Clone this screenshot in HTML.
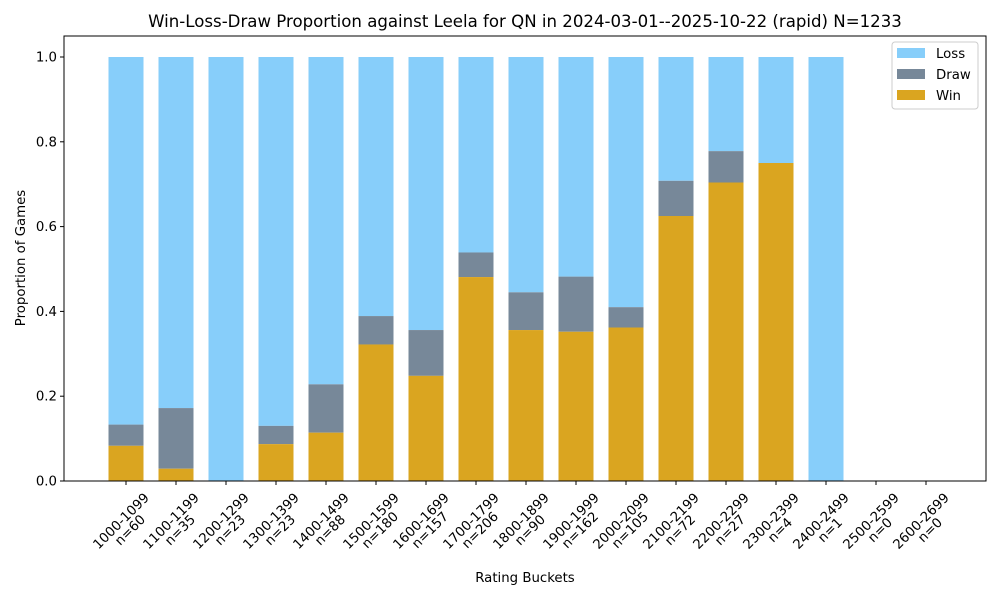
<!DOCTYPE html>
<html><head><meta charset="utf-8"><style>
body{margin:0;background:#fff;font-family:"DejaVu Sans","Liberation Sans",sans-serif;}
</style></head><body>
<svg id="chart" width="1000" height="600" xmlns="http://www.w3.org/2000/svg" font-family="DejaVu Sans, Liberation Sans, sans-serif">
<rect width="1000" height="600" fill="#fff"/>
<text x="525" y="27" text-anchor="middle" font-size="16.6">Win-Loss-Draw Proportion against Leela for QN in 2024-03-01--2025-10-22 (rapid) N=1233</text>
<g id="bars"></g>
<g id="axes"></g>
<text x="525" y="582" text-anchor="middle" font-size="13.3">Rating Buckets</text>
<text transform="translate(25,258) rotate(-90)" text-anchor="middle" font-size="13.3">Proportion of Games</text>
<g>
<rect x="892" y="42" width="86" height="67" fill="#fff" stroke="#ccc" rx="3"/>
<rect x="897" y="48" width="28" height="10" fill="#87CEFA"/>
<text x="936" y="58" font-size="13.3">Loss</text>
<rect x="897" y="69" width="28" height="10" fill="#778899"/>
<text x="936" y="79" font-size="13.3">Draw</text>
<rect x="897" y="90" width="28" height="10" fill="#DAA520"/>
<text x="936" y="100" font-size="13.3">Win</text>
</g>
</svg>
<script>
const categories=["1000-1099","1100-1199","1200-1299","1300-1399","1400-1499","1500-1599","1600-1699","1700-1799","1800-1899","1900-1999","2000-2099","2100-2199","2200-2299","2300-2399","2400-2499","2500-2599","2600-2699"];
const counts=[60,35,23,23,88,180,157,206,90,162,105,72,27,4,1,0,0];
const winValues=[0.083,0.029,0,0.087,0.114,0.322,0.248,0.481,0.356,0.352,0.362,0.625,0.704,0.75,0,0,0];
const drawValues=[0.05,0.143,0,0.043,0.114,0.067,0.108,0.058,0.089,0.13,0.048,0.083,0.074,0,0,0,0];
const yTicks=[0,0.2,0.4,0.6,0.8,1.0];
const NS="http://www.w3.org/2000/svg";
const L=64,R=986,T=36,B=481;
const x=i=>126+50*i;
const y=v=>B-v*424;
const bw=35;
function mk(tag,attrs,parent){const e=document.createElementNS(NS,tag);for(const k in attrs)e.setAttribute(k,attrs[k]);parent.appendChild(e);return e;}
const bars=document.getElementById('bars'),axes=document.getElementById('axes');
categories.forEach((c,i)=>{
  if(counts[i]===0)return;
  const w=winValues[i],d=drawValues[i];
  const rl=mk('rect',{x:x(i)-bw/2,y:y(1),width:bw,height:y(w+d)-y(1),fill:'#87CEFA'},bars);
  
  
  const rd=mk('rect',{x:x(i)-bw/2,y:y(w+d),width:bw,height:y(w)-y(w+d),fill:'#778899'},bars);
  
  
  const rw=mk('rect',{x:x(i)-bw/2,y:y(w),width:bw,height:y(0)-y(w),fill:'#DAA520'},bars);
  
  
});
const frame=mk('rect',{x:L,y:T,width:R-L,height:B-T,fill:'none',stroke:'#000','stroke-width':1},axes);


yTicks.forEach(t=>{
  mk('line',{x1:L-4,x2:L,y1:y(t),y2:y(t),stroke:'#000'},axes);
  const tx=mk('text',{x:L-7,y:y(t)+4.5,'text-anchor':'end','font-size':13.3},axes);
  tx.textContent=t.toFixed(1);
  
  
});
categories.forEach((c,i)=>{
  const cx=x(i);
  mk('line',{x1:cx,x2:cx,y1:B,y2:B+4,stroke:'#000'},axes);
  const c1x=cx-5,c1y=521,c2x=c1x+9,c2y=c1y+9;
  const t1=mk('text',{x:c1x,y:c1y+4.5,'text-anchor':'middle','font-size':13.3,transform:`rotate(-45 ${c1x} ${c1y})`},axes);
  t1.textContent=c;
  
  
  const t2=mk('text',{x:c2x,y:c2y+4.5,'text-anchor':'middle','font-size':13.3,transform:`rotate(-45 ${c2x} ${c2y})`},axes);
  t2.textContent='n='+counts[i];
  
  
});
</script>
</body></html>
